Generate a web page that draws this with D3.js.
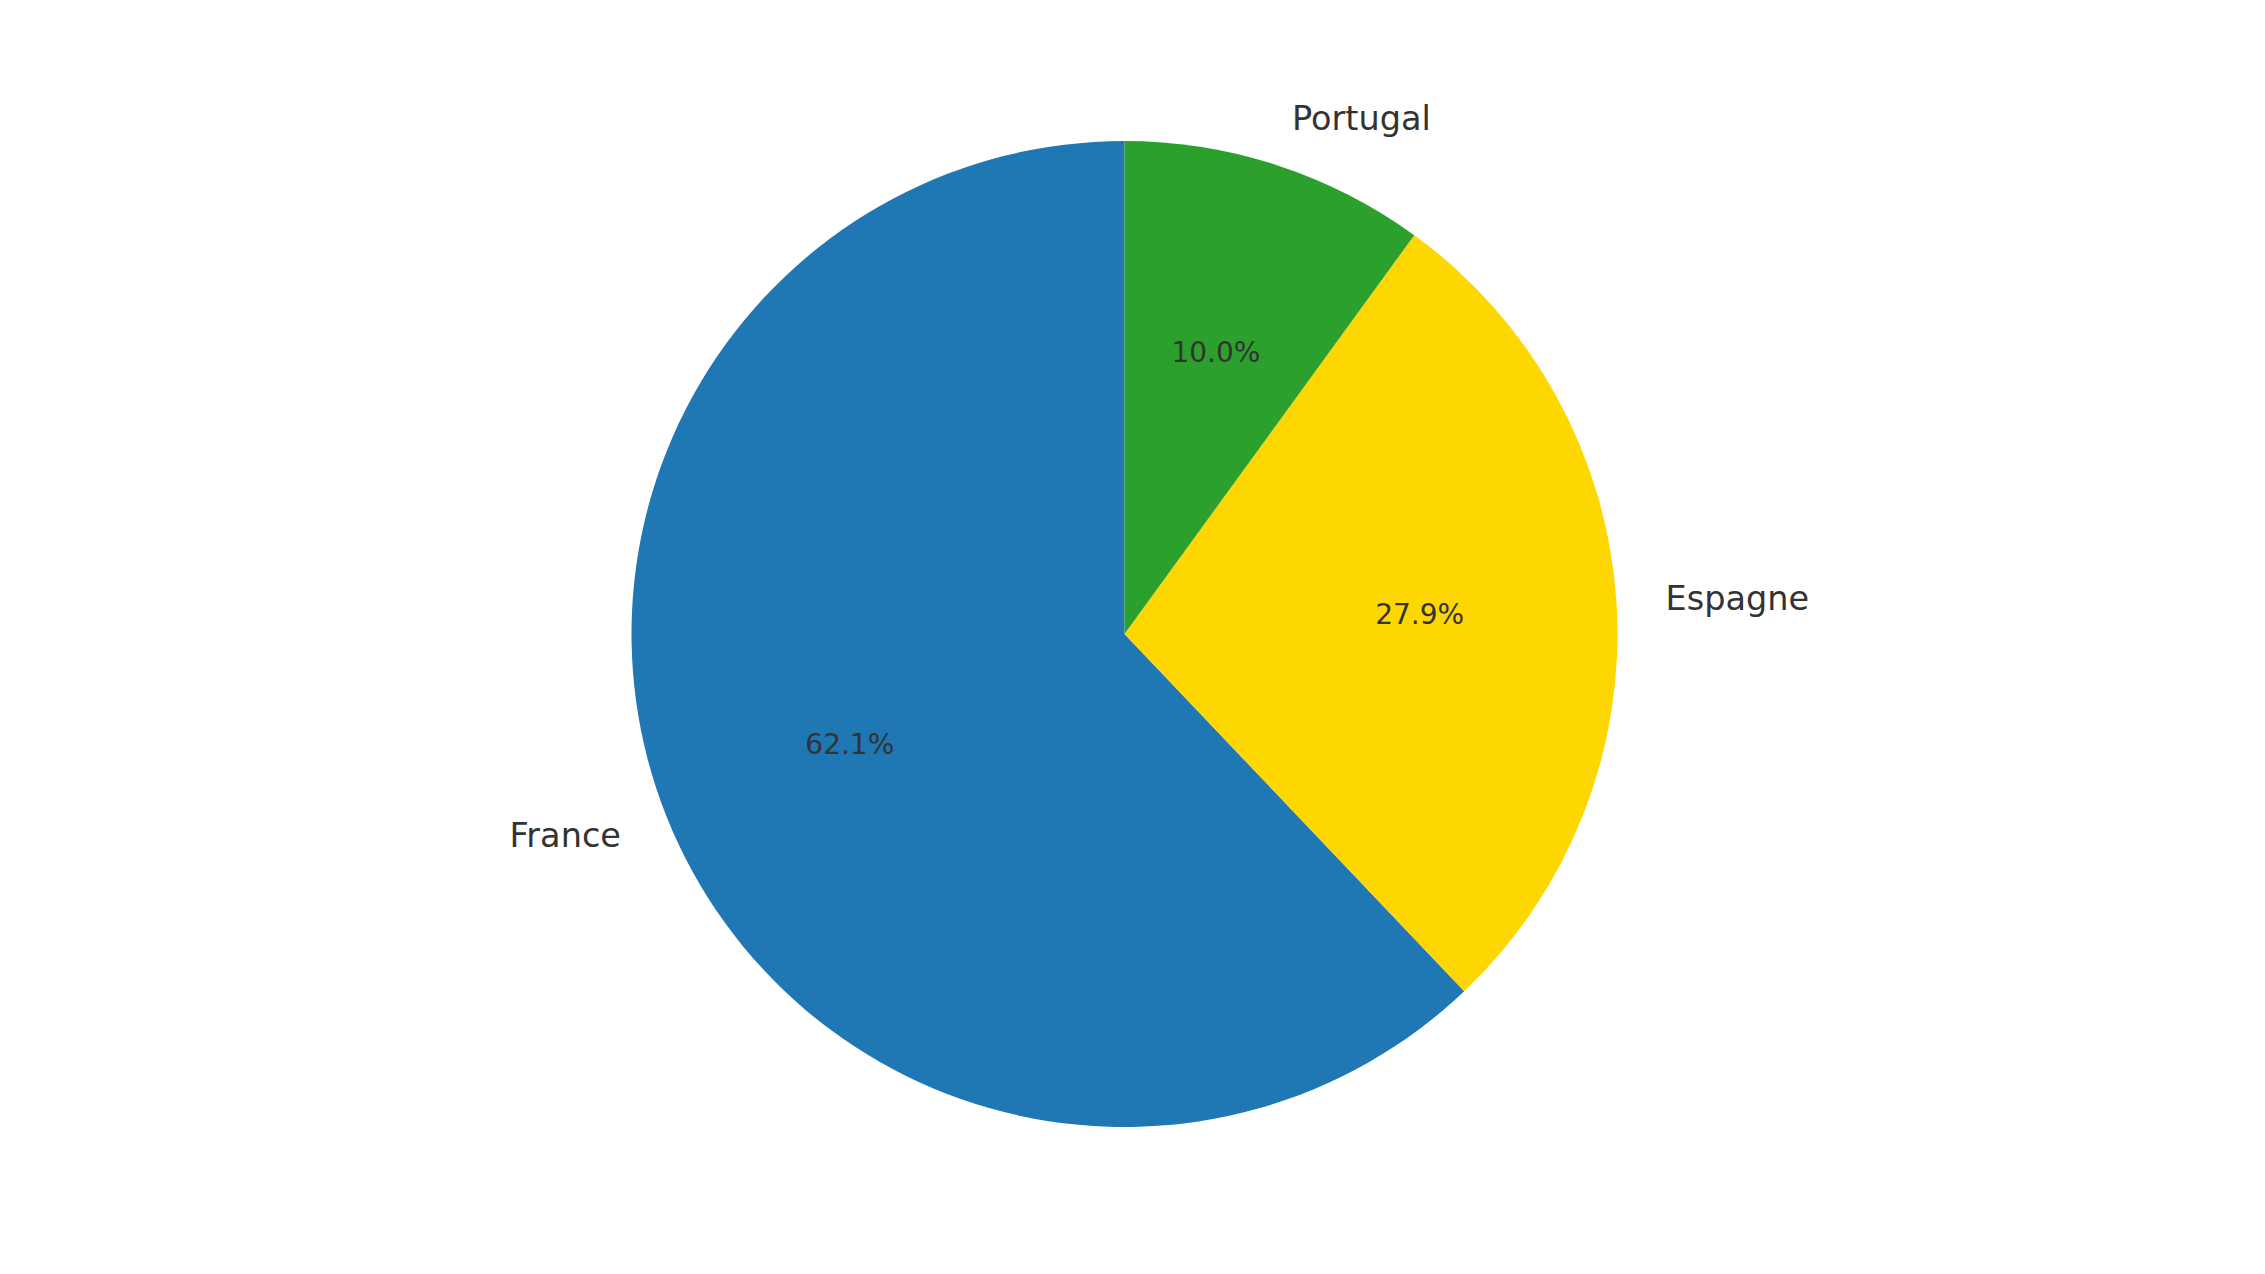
<!DOCTYPE html>
<html>
<head>
<meta charset="utf-8">
<script src="https://cdn.jsdelivr.net/npm/d3@7"></script>
<style>
  body { margin: 0; background: #fff; }
  text { font-family: "DejaVu Sans", sans-serif; fill: #333333; }
</style>
</head>
<body>
<div id="chart"></div>
<script>
// data
const countries = ["France", "Espagne", "Portugal"];
const shares = [62.1, 27.9, 10.0];
const colors = ["#1f77b4", "#FFD700", "#2ca02c"];

const width = 2265, height = 1274;
const cx = 1124.5, cy = 634, radius = 493;

const svg = d3.select("#chart").append("svg")
    .attr("width", width)
    .attr("height", height);

const g = svg.append("g")
    .attr("transform", `translate(${cx}, ${cy})`);

// start at top, go counter-clockwise (matplotlib startangle=90)
const pie = d3.pie()
    .sort(null)
    .value(d => d.value)
    .startAngle(0)
    .endAngle(-2 * Math.PI);

const data = countries.map((c, i) => ({name: c, value: shares[i], color: colors[i]}));
const arcs = pie(data);

const arc = d3.arc().innerRadius(0).outerRadius(radius);

g.selectAll("path.slice")
    .data(arcs)
    .enter()
    .append("path")
    .attr("class", "slice")
    .attr("d", arc)
    .attr("fill", d => d.data.color);

// mid angle in d3 convention (0 = top, clockwise)
const mid = d => (d.startAngle + d.endAngle) / 2;

// country labels at 1.1 r
g.selectAll("text.label")
    .data(arcs)
    .enter()
    .append("text")
    .attr("class", "label")
    .attr("x", d => Math.sin(mid(d)) * radius * 1.1)
    .attr("y", d => -Math.cos(mid(d)) * radius * 1.1)
    .attr("dy", "0.35em")
    .attr("text-anchor", d => Math.sin(mid(d)) > 0 ? "start" : "end")
    .attr("font-size", "33.5px")
    .text(d => d.data.name);

// percentages at 0.6 r
g.selectAll("text.pct")
    .data(arcs)
    .enter()
    .append("text")
    .attr("class", "pct")
    .attr("x", d => Math.sin(mid(d)) * radius * 0.6)
    .attr("y", d => -Math.cos(mid(d)) * radius * 0.6)
    .attr("dy", "0.35em")
    .attr("text-anchor", "middle")
    .attr("font-size", "28px")
    .text(d => d3.format(".1f")(d.data.value) + "%");
</script>
</body>
</html>
